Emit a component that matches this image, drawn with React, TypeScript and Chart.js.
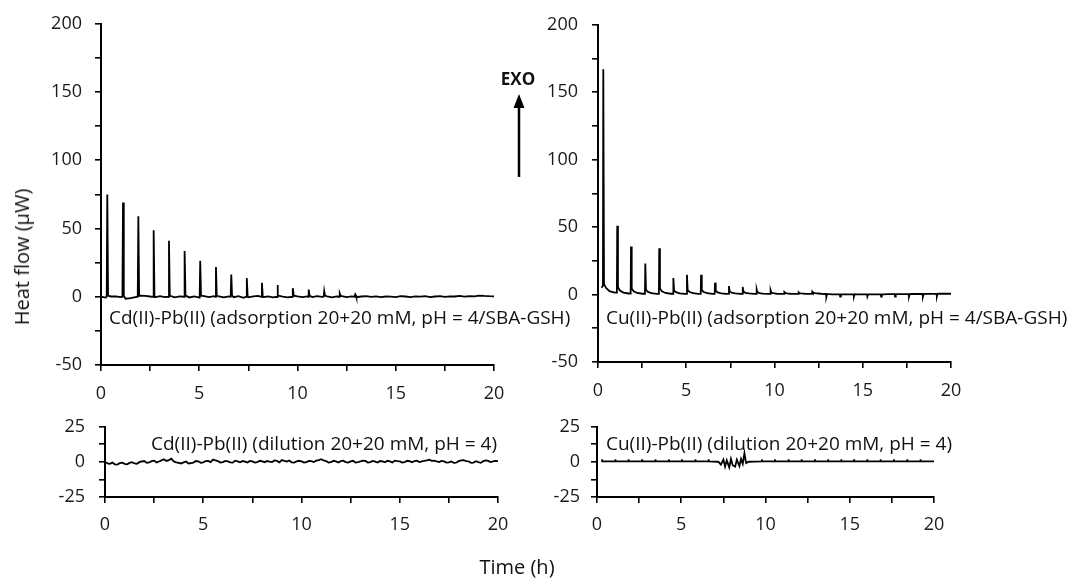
import React, { useEffect, useRef } from 'react';
import { Chart, registerables } from 'chart.js';

Chart.register(...registerables);

const W = 1069;
const H = 579;
const FONT = "'Open Sans', sans-serif";

// ---------- data ----------
// common time grid (h) for baselines
const gridT = [
  0, 0.25, 0.5, 0.75, 1, 1.25, 1.5, 1.75, 2, 2.25,
  2.5, 2.75, 3, 3.25, 3.5, 3.75, 4, 4.25, 4.5, 4.75,
  5, 5.25, 5.5, 5.75, 6, 6.25, 6.5, 6.75, 7, 7.25,
  7.5, 7.75, 8, 8.25, 8.5, 8.75, 9, 9.25, 9.5, 9.75,
  10, 10.25, 10.5, 10.75, 11, 11.25, 11.5, 11.75, 12, 12.25,
  12.5, 12.75, 13, 13.25, 13.5, 13.75, 14, 14.25, 14.5, 14.75,
  15, 15.25, 15.5, 15.75, 16, 16.25, 16.5, 16.75, 17, 17.25,
  17.5, 17.75, 18, 18.25, 18.5, 18.75, 19, 19.25, 19.5, 19.75,
  20,
];

// Cd(II)-Pb(II) adsorption: baseline + injection peaks
const baseCd = [
  0, -0.6, 0.2, 0.3, -0.2, -1.4, -1.0, -0.2, 0.9, 0.7,
  0.2, -0.4, 0.4, -0.3, 0.5, -0.4, 0.3, 0.5, -0.5, 0.2,
  -0.6, 0.4, -0.2, 0.5, 0.2, -0.5, 0.3, -0.3, 0.5, -0.8,
  -0.4, 0.3, 0.6, -0.2, 0.2, -0.5, 0.3, 0.1, -0.4, 0.4,
  0.2, -0.3, 0.3, -0.2, 0.4, -0.1, 0.3, -0.4, 0.2, 0.4,
  -0.2, 0.3, -0.3, 0.2, 0.5, -0.1, 0.3, -0.3, 0.2, 0.1,
  -0.2, 0.4, 0.2, -0.3, 0.3, 0.1, 0.5, -0.2, 0.2, 0.4,
  -0.1, 0.3, 0.2, 0.6, 0.1, 0.4, 0.3, 0.9, 0.6, 0.4,
  0.3,
];
const injCd = [0.32, 1.12, 1.9, 2.68, 3.46, 4.26, 5.05, 5.85, 6.63, 7.42, 8.19, 8.99, 9.77, 10.57, 11.36, 12.15, 12.94];
const peakCd = [75, 69, 59, 48.8, 41, 33.6, 26.4, 21.8, 16.3, 13.7, 10.3, 8.6, 6.3, 5.3, 4.2, 2.4, 1.8];

// Cu(II)-Pb(II) adsorption: injection peaks with decaying tails
const cuStartT = [0.2, 0.28];
const cuStartV = [5, 6.5];
const injCu = [0.3, 1.09, 1.87, 2.68, 3.47, 4.27, 5.04, 5.84, 6.63, 7.42, 8.2, 8.99, 9.78, 10.56, 11.37, 12.14, 12.94, 13.72, 14.5, 15.26, 16.04, 16.83, 17.62, 18.41, 19.2];
const peakCu = [167, 51, 35.6, 23.1, 34.3, 12.2, 14.7, 14.7, 8.8, 6.3, 5.6, 3.9, 3.2, 1.8, 1.6, 2.2, -1.8, -1.5, -1.5, -1.5, -1.5, -1.5, -1.5, -1.5, -1.5];
const tailDt = [0.04, 0.15, 0.35, 0.65];
const tailCu = [
  [8, 5, 2.5, 1.5],
  [5.5, 3, 1.5, 0.8],
  [4.5, 2.5, 1.2, 0.6],
  [3.5, 2, 1, 0.5],
  [4.5, 2.5, 1.2, 0.6],
  [3, 1.8, 0.9, 0.5],
  [3.2, 1.9, 1, 0.5],
  [3.2, 1.9, 1, 0.5],
  [2.8, 1.6, 0.9, 0.5],
  [2.3, 1.4, 0.8, 0.5],
  [2.2, 1.3, 0.8, 0.5],
  [1.8, 1.1, 0.7, 0.5],
  [1.5, 1, 0.6, 0.5],
  [1.2, 0.8, 0.6, 0.5],
  [1.1, 0.8, 0.6, 0.5],
  [1.4, 1.1, 0.8, 0.4],
  [0.3, 0.3, 0.2, 0.2],
  [0.2, 0.2, 0.2, 0.2],
  [0.2, 0.1, 0.1, 0.1],
  [0.1, 0.1, 0.2, 0.2],
  [0.2, 0.2, 0.3, 0.3],
  [0.3, 0.3, 0.3, 0.3],
  [0.3, 0.4, 0.4, 0.4],
  [0.4, 0.5, 0.5, 0.5],
  [0.5, 0.6, 0.6, 0.6],
];
const cuEndT = [20];
const cuEndV = [0.6];

// Cd(II)-Pb(II) dilution (blank): values on the grid and at grid mid-points
const dilCd = [
  -0.3, -1.5, -1.8, -1.0, -1.5, -0.8, -1.2, -0.3, 0.5, -0.5,
  0.8, 0.2, 1.8, 1.2, 0.2, -0.8, -0.5, -1.2, -0.6, 0.3,
  -0.4, 0.6, 1.5, 0.4, -0.3, 0.2, -0.6, 0.3, 0.5, -0.5,
  0.2, -0.3, 0.3, 0.5, -0.2, 0.6, 1.2, 0.2, -0.4, 0.3,
  0.2, -0.3, 0.4, 0.8, 1.8, 0.5, -0.3, 0.2, 0.4, -0.2,
  0.3, -0.5, 0.2, 0.6, -0.3, 0.1, 0.5, -0.4, 0.3, 0.8,
  0.2, -0.3, 0.4, 0.5, -0.2, 0.6, 1.5, 0.8, -0.2, 0.3,
  -0.5, -0.8, 0.4, 1.2, 0.3, -0.6, -0.3, 0.4, 0.6, 0.3,
  0.5,
];
const dilCdMid = [
  -1.2, -0.6, -2.0, -0.6, -1.8, -0.3, -1.5, 0.3, -0.8, 0.4,
  -0.5, 1.0, 0.6, 2.2, -0.4, -1.2, 0.2, -0.9, 0.5, -0.8,
  0.5, -0.3, 0.9, -0.6, 0.6, -0.5, 0.8, -0.4, 0.1, 0.6,
  -0.6, 0.7, -0.3, 0.1, 0.9, -0.4, 0.6, 0.9, -0.6, 0.7,
  -0.5, 0.6, -0.2, 1.2, 0.9, -0.6, 0.7, -0.5, 0.8, -0.6,
  0.7, -0.2, 0.8, -0.5, 0.6, -0.6, 0.3, 0.7, -0.5, 0.4,
  -0.6, 0.7, -0.4, 0.8, 0.3, 1.0, 0.6, 0.2, 0.6, -0.6,
  0.2, -0.6, 0.9, 0.5, -0.8, 0.4, -0.8, 0.9, -0.2, 0.6,
];

// Cu(II)-Pb(II) dilution (blank): small injection marks + noisy burst
const dilCuMark = 1.8;
const dilCuBase = 0.2;
const burstT = [7.2, 7.35, 7.5, 7.6, 7.7, 7.85, 7.95, 8.05, 8.2, 8.3, 8.45, 8.55, 8.65, 8.75, 8.85, 9.0];
const burstV = [0, -2, 1.5, -3.5, 1, -4, 2, -2.5, -3.5, 1.5, -3, 2, -1.5, 6, -1, 0];

// axis tick settings
const xTicksStep = 2.5;
const xLabelEvery = 5;
const yTopStep = 25;
const yTopLabelEvery = 50;
const yBotStep = 12.5;
const yBotLabelEvery = 25;

// ---------- series building ----------
type P = { x: number; y: number };
const byX = (a: P, b: P) => a.x - b.x;

function seriesCdAds(): P[] {
  const pts: P[] = gridT.map((t, i) => ({ x: t, y: baseCd[i] }));
  injCd.forEach((t, i) => {
    pts.push({ x: t - 0.03, y: 0 });
    pts.push({ x: t, y: peakCd[i] });
    pts.push({ x: t + 0.04, y: 0.8 });
  });
  return pts.sort(byX);
}

function seriesCuAds(): P[] {
  const pts: P[] = cuStartT.map((t, i) => ({ x: t, y: cuStartV[i] }));
  let prev = cuStartV[cuStartV.length - 1];
  injCu.forEach((t, i) => {
    if (i > 0) pts.push({ x: t - 0.02, y: prev });
    pts.push({ x: t, y: peakCu[i] });
    tailCu[i].forEach((v, k) => pts.push({ x: t + tailDt[k], y: v }));
    prev = tailCu[i][tailCu[i].length - 1];
  });
  cuEndT.forEach((t, i) => pts.push({ x: t, y: cuEndV[i] }));
  return pts.sort(byX);
}

function seriesCdDil(): P[] {
  const pts: P[] = gridT.map((t, i) => ({ x: t, y: dilCd[i] }));
  dilCdMid.forEach((v, i) => pts.push({ x: (gridT[i] + gridT[i + 1]) / 2, y: v }));
  pts[0].x = 0.05;
  return pts.sort(byX);
}

function seriesCuDil(): P[] {
  const pts: P[] = [{ x: 0.3, y: dilCuBase }];
  const b0 = burstT[0];
  const b1 = burstT[burstT.length - 1];
  injCu.forEach((t) => {
    if (t > b0 - 0.05 && t < b1 + 0.05) return;
    pts.push({ x: t - 0.01, y: dilCuBase });
    pts.push({ x: t, y: dilCuMark });
    pts.push({ x: t + 0.01, y: dilCuBase });
  });
  burstT.forEach((t, i) => pts.push({ x: t, y: burstV[i] }));
  pts.push({ x: 20, y: dilCuBase });
  return pts.sort(byX);
}

// ---------- chart configs ----------
const YW = 60;
const XH = 45;
const TICK_SIZE = 18;

type Area = { left: number; top: number; right: number; bottom: number };

function makeConfig(
  data: P[],
  area: Area,
  yMin: number,
  yMax: number,
  yStep: number,
  yLabelEvery: number,
  yPad: number,
  xPad: number
): any {
  const axisColor = '#000';
  const tickColor = '#1a1a1a';
  return {
    type: 'line',
    data: {
      datasets: [
        {
          data,
          borderColor: '#000',
          borderWidth: 1.8,
          pointRadius: 0,
          tension: 0,
          fill: false,
        },
      ],
    },
    options: {
      responsive: false,
      animation: false,
      devicePixelRatio: 1,
      layout: {
        padding: {
          left: area.left - YW,
          top: area.top,
          right: W - area.right,
          bottom: H - area.bottom - XH,
        },
      },
      plugins: { legend: { display: false }, tooltip: { enabled: false } },
      scales: {
        x: {
          type: 'linear',
          min: 0,
          max: 20,
          border: { display: true, color: axisColor, width: 2 },
          grid: { display: true, drawOnChartArea: false, drawTicks: true, tickLength: 6, color: axisColor, lineWidth: 1.6 },
          ticks: {
            stepSize: xTicksStep,
            autoSkip: false,
            maxRotation: 0,
            padding: xPad,
            color: tickColor,
            font: { family: FONT, size: TICK_SIZE },
            callback: (v: number) => (Math.abs(v % xLabelEvery) < 1e-9 ? String(v) : ''),
          },
          afterFit: (s: any) => {
            s.height = XH;
          },
        },
        y: {
          type: 'linear',
          min: yMin,
          max: yMax,
          border: { display: true, color: axisColor, width: 2 },
          grid: { display: true, drawOnChartArea: false, drawTicks: true, tickLength: 6, color: axisColor, lineWidth: 1.6 },
          ticks: {
            stepSize: yStep,
            autoSkip: false,
            padding: yPad,
            color: tickColor,
            font: { family: FONT, size: TICK_SIZE },
            callback: (v: number) => (Math.abs(v % yLabelEvery) < 1e-9 ? String(v) : ''),
          },
          afterFit: (s: any) => {
            s.width = YW;
          },
        },
      },
    },
  };
}

const panels = [
  { build: seriesCdAds, area: { left: 101, top: 19, right: 494, bottom: 365 }, yMin: -50, yMax: 200, yStep: yTopStep, yLabel: yTopLabelEvery, yPad: 13, xPad: 12 },
  { build: seriesCuAds, area: { left: 598, top: 22.5, right: 951, bottom: 362 }, yMin: -50, yMax: 200, yStep: yTopStep, yLabel: yTopLabelEvery, yPad: 14, xPad: 12 },
  { build: seriesCdDil, area: { left: 105, top: 426.5, right: 498, bottom: 497 }, yMin: -25, yMax: 25, yStep: yBotStep, yLabel: yBotLabelEvery, yPad: 14, xPad: 11 },
  { build: seriesCuDil, area: { left: 597, top: 426.5, right: 934, bottom: 497 }, yMin: -25, yMax: 25, yStep: yBotStep, yLabel: yBotLabelEvery, yPad: 11, xPad: 11 },
];

const annotations = [
  { text: 'Cd(II)-Pb(II) (adsorption 20+20 mM, pH = 4/SBA-GSH)', left: 109, cy: 317 },
  { text: 'Cu(II)-Pb(II) (adsorption 20+20 mM, pH = 4/SBA-GSH)', left: 606, cy: 317 },
  { text: 'Cd(II)-Pb(II) (dilution 20+20 mM, pH = 4)', left: 151, cy: 443 },
  { text: 'Cu(II)-Pb(II) (dilution 20+20 mM, pH = 4)', left: 606, cy: 443 },
];

export default function App() {
  const refs = [useRef<HTMLCanvasElement>(null), useRef<HTMLCanvasElement>(null), useRef<HTMLCanvasElement>(null), useRef<HTMLCanvasElement>(null)];

  useEffect(() => {
    const charts = panels.map((p, i) => {
      const c = refs[i].current!;
      return new Chart(c, makeConfig(p.build(), p.area, p.yMin, p.yMax, p.yStep, p.yLabel, p.yPad, p.xPad));
    });
    return () => charts.forEach((ch) => ch.destroy());
  }, []);

  const textBase: React.CSSProperties = {
    position: 'absolute',
    whiteSpace: 'nowrap',
    fontFamily: FONT,
    color: '#111',
    lineHeight: 1,
  };

  return (
    <div style={{ position: 'absolute', left: 0, top: 0, width: W, height: H, background: '#fff', overflow: 'hidden' }}>
      {refs.map((r, i) => (
        <canvas key={i} ref={r} width={W} height={H} style={{ position: 'absolute', left: 0, top: 0, width: W, height: H }} />
      ))}
      {annotations.map((a, i) => (
        <div key={i} style={{ ...textBase, fontSize: 19, left: a.left, top: a.cy, transform: 'translateY(-50%)' }}>
          {a.text}
        </div>
      ))}
      <div style={{ ...textBase, fontSize: 20, left: 22, top: 257, transform: 'translate(-50%, -50%) rotate(-90deg)' }}>
        Heat flow (µW)
      </div>
      <div style={{ ...textBase, fontSize: 20, left: 517, top: 567, transform: 'translate(-50%, -50%)' }}>Time (h)</div>
      <div style={{ ...textBase, fontSize: 17, fontWeight: 700, left: 518, top: 78, transform: 'translate(-50%, -50%)' }}>EXO</div>
      <svg width={W} height={H} style={{ position: 'absolute', left: 0, top: 0 }}>
        <line x1={519} y1={177} x2={519} y2={104} stroke="#000" strokeWidth={2.5} />
        <polygon points="519,94 513.5,108 524.5,108" fill="#000" />
      </svg>
    </div>
  );
}
